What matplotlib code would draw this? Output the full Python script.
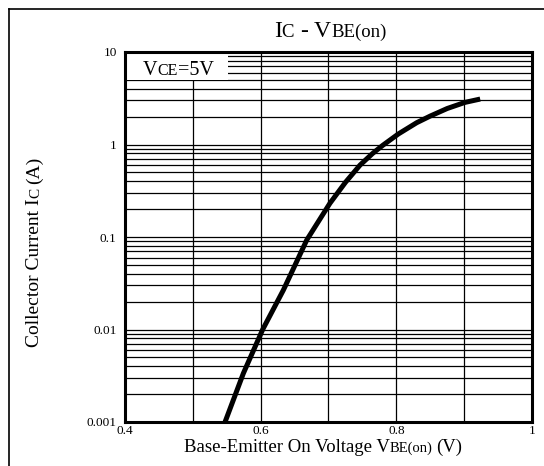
import numpy as np
import matplotlib
matplotlib.use("Agg")
import matplotlib.pyplot as plt
from matplotlib.lines import Line2D
from matplotlib.patches import Rectangle
from matplotlib.transforms import IdentityTransform

# data
vbe = [0.5475, 0.5745, 0.603, 0.6335, 0.668, 0.702, 0.725, 0.7466, 0.765,
       0.78, 0.803, 0.83, 0.85, 0.875, 0.901, 0.9236]
ic = [0.001, 0.00336, 0.01, 0.0267, 0.093, 0.231, 0.39, 0.6, 0.8,
      0.98, 1.3, 1.72, 2.03, 2.45, 2.85, 3.1]

xticks = [0.4, 0.6, 0.8, 1.0]
xticklabels = ["0.4", "0.6", "0.8", "1"]
xminor = [0.5, 0.7, 0.9]
yticks = [0.001, 0.01, 0.1, 1, 10]
yticklabels = ["0.001", "0.01", "0.1", "1", "10"]

plt.rcParams['font.family'] = ['Liberation Serif', 'DejaVu Serif']

W, H = 544, 466
fig = plt.figure(figsize=(W / 100, H / 100), dpi=100)
ax = fig.add_axes([125 / W, 1 - 422 / H, 407 / W, 370 / H])

ax.set_yscale("log")
ax.set_xlim(0.4, 1.0)
ax.set_ylim(0.001, 10)
ax.set_xticks(xticks)
ax.set_xticklabels(xticklabels)
ax.set_xticks(xminor, minor=True)
ax.set_yticks(yticks)
ax.set_yticklabels(yticklabels)
ax.yaxis.set_minor_formatter(matplotlib.ticker.NullFormatter())
ax.tick_params(which="both", length=0, labelsize=9.5)
ax.tick_params(axis="y", pad=6)
ax.tick_params(axis="x", pad=2)
ax.grid(True, which="both", color="black", lw=0.9)
for s in ax.spines.values():
    s.set_linewidth(2.2)

ax.plot(vbe, ic, color="black", lw=3.6, solid_capstyle="butt",
        solid_joinstyle="round")

# white box behind the VCE label
ax.add_patch(Rectangle((0, 1), (228 - 125) / 407, -(80 - 52) / 370,
                       transform=ax.transAxes, facecolor="white",
                       edgecolor="none", zorder=2.5))

# outer frame of the original figure (only top/left visible)
fig.add_artist(Line2D([9 / W, 1], [1 - 9 / H, 1 - 9 / H], color="black", lw=1.2))
fig.add_artist(Line2D([9 / W, 9 / W], [1 - 9 / H, 0], color="black", lw=1.2))

renderer = fig.canvas.get_renderer()


def rich_text(x, y, parts, vertical=False, center=True, zorder=3):
    # parts: (text, fontsize, gap in px before it)
    texts = []
    for s, fs, gap in parts:
        t = fig.text(0, 0, s, fontsize=fs, transform=IdentityTransform(),
                     rotation=90 if vertical else 0, rotation_mode="anchor",
                     ha="left", va="baseline", zorder=zorder)
        bb = t.get_window_extent(renderer)
        texts.append((t, gap, bb.height if vertical else bb.width))
    total = sum(g + w for _, g, w in texts)
    pos = -total / 2 if center else 0
    for t, g, w in texts:
        pos += g
        if vertical:
            t.set_position((x, y + pos))
        else:
            t.set_position((x + pos, y))
        pos += w


rich_text(330, H - 37, [("I", 17, 0), ("C", 13.5, 0), ("-", 17, 6),
                        ("V", 17, 6), ("BE(on)", 13.5, 0)])
rich_text(143, H - 75, [("V", 14.5, 0), ("CE", 11.5, 0), ("=5V", 14.5, 0)],
          center=False, zorder=5)
rich_text(323, H - 452, [("Base-Emitter On Voltage V", 13.5, 0), ("BE(on)", 10.5, 0),
                         ("(V)", 13.5, 4)])
rich_text(39, H - 252, [("Collector Current I", 14, 0), ("C", 11, 0),
                        ("(A)", 14, 4)], vertical=True)

fig.savefig("out.png", dpi=100)
